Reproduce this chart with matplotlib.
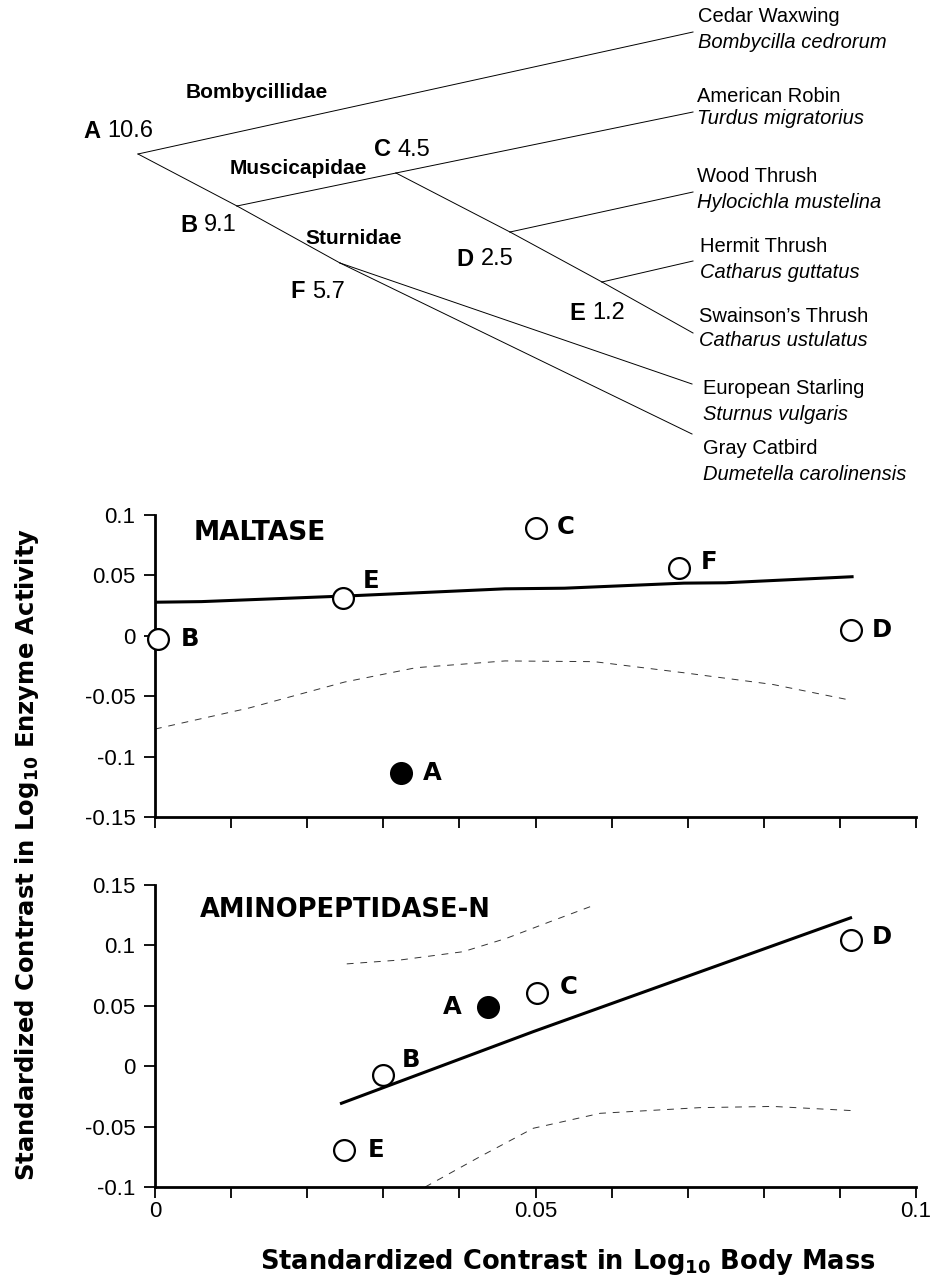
import matplotlib
matplotlib.use("Agg")
import matplotlib.pyplot as plt

plt.rcParams['font.family'] = ['Liberation Sans', 'DejaVu Sans']
plt.rcParams['axes.unicode_minus'] = False
plt.rcParams['mathtext.fontset'] = 'custom'
plt.rcParams['mathtext.rm'] = 'DejaVu Sans:bold'
plt.rcParams['mathtext.bf'] = 'DejaVu Sans:bold'
plt.rcParams['mathtext.default'] = 'bf'

# --- tree data (pixel layout of the cladogram) ---
node_names = ['A', 'B', 'C', 'D', 'E', 'F']
node_x = [138, 237, 396, 510, 602, 340]
node_y = [154, 206, 173, 232, 282, 263]
node_values = ['10.6', '9.1', '4.5', '2.5', '1.2', '5.7']
node_label_x = [100, 197, 391, 474, 585, 305]
node_label_y = [131, 225, 150, 259, 313, 292]

tip_names = ['Cedar', 'Robin', 'Wood', 'Hermit', 'Swainson', 'Starling', 'Catbird']
tip_x = [693, 693, 693, 693, 693, 692, 692]
tip_y = [32, 112, 192, 261, 333, 384, 434]
common_names = ['Cedar Waxwing', 'American Robin', 'Wood Thrush', 'Hermit Thrush',
                "Swainson\u2019s Thrush", 'European Starling', 'Gray Catbird']
latin_names = ['Bombycilla cedrorum', 'Turdus migratorius', 'Hylocichla mustelina',
               'Catharus guttatus', 'Catharus ustulatus', 'Sturnus vulgaris',
               'Dumetella carolinensis']
name_x = [698, 697, 697, 700, 699, 703, 703]
common_y = [17, 96, 177, 246, 317, 389, 448]
latin_y = [42, 119, 202, 272, 341, 414, 475]

edges = [('A', 'Cedar'), ('A', 'B'), ('B', 'C'), ('C', 'Robin'), ('B', 'F'),
         ('F', 'Catbird'), ('F', 'Starling'), ('C', 'D'), ('D', 'Wood'),
         ('D', 'E'), ('E', 'Hermit'), ('E', 'Swainson')]

families = ['Bombycillidae', 'Muscicapidae', 'Sturnidae']
family_x = [186, 230, 305]
family_y = [93, 169, 238]

# --- contrast data ---
malt_labels = ['A', 'B', 'C', 'D', 'E', 'F']
malt_x = [0.0323, 0.0004, 0.0501, 0.0914, 0.0247, 0.0689]
malt_y = [-0.1139, -0.0030, 0.0894, 0.0050, 0.0317, 0.0561]
malt_fit_x = [0.0, 0.0061, 0.0264, 0.046, 0.0538, 0.0695, 0.075, 0.0916]
malt_fit_y = [0.0278, 0.0283, 0.0333, 0.0389, 0.0394, 0.0436, 0.0439, 0.0489]
malt_ci_x = [0.0, 0.0124, 0.0249, 0.0343, 0.046, 0.0577, 0.0695, 0.0812, 0.091]
malt_ci_y = [-0.0772, -0.0597, -0.0383, -0.0264, -0.0208, -0.0214, -0.0306, -0.0403, -0.0528]

amino_labels = ['A', 'B', 'C', 'D', 'E']
amino_x = [0.0437, 0.0300, 0.0502, 0.0914, 0.0248]
amino_y = [0.0488, -0.0073, 0.0608, 0.1042, -0.0694]
amino_fit_x = [0.0245, 0.0497, 0.0914]
amino_fit_y = [-0.0307, 0.0286, 0.1228]
amino_ci_up_x = [0.0252, 0.0322, 0.0405, 0.0462, 0.0519, 0.0578]
amino_ci_up_y = [0.0847, 0.0879, 0.0948, 0.1059, 0.1196, 0.1335]
amino_ci_lo_x = [0.0355, 0.0427, 0.0497, 0.0585, 0.0716, 0.0812, 0.0914]
amino_ci_lo_y = [-0.1, -0.0749, -0.0514, -0.039, -0.0343, -0.0333, -0.0367]

# label offsets (pixels) next to each point
malt_offsets = {'A': (22, 0), 'B': (23, 0), 'C': (20, 1), 'D': (21, 0), 'E': (20, 17), 'F': (21, 6)}
amino_offsets = {'A': (-26, 0), 'B': (18, 15), 'C': (23, 6), 'D': (21, 3), 'E': (24, 0)}

W, H = 932, 1283
fig = plt.figure(figsize=(W / 100, H / 100), dpi=100)

# tree drawn in pixel coordinates
tree = fig.add_axes([0, 0, 1, 1])
tree.set_xlim(0, W)
tree.set_ylim(H, 0)
tree.axis('off')

pos = {}
for n, x, y in zip(node_names, node_x, node_y):
    pos[n] = (x, y)
for n, x, y in zip(tip_names, tip_x, tip_y):
    pos[n] = (x, y)
for a, b in edges:
    tree.plot([pos[a][0], pos[b][0]], [pos[a][1], pos[b][1]], color='k', lw=0.7)

for n, v, lx, ly in zip(node_names, node_values, node_label_x, node_label_y):
    tree.text(lx, ly, n, ha='right', va='center', fontsize=17, fontweight='bold')
    tree.text(lx + 7, ly, v, ha='left', va='center', fontsize=17)

for f, fx, fy in zip(families, family_x, family_y):
    tree.text(fx, fy, f, ha='left', va='center', fontsize=15, fontweight='bold')

for c, l, x, cy, ly in zip(common_names, latin_names, name_x, common_y, latin_y):
    tree.text(x, cy, c, ha='left', va='center', fontsize=14.5)
    tree.text(x, ly, l, ha='left', va='center', fontsize=14.5, style='italic')


def add_panel(top_px, bottom_px):
    left_px, right_px = 155, 916
    return fig.add_axes([left_px / W, 1 - bottom_px / H,
                         (right_px - left_px) / W, (bottom_px - top_px) / H])


def style_axes(ax, ylim, yticks, show_xlabels):
    ax.set_xlim(0, 0.1)
    ax.set_ylim(*ylim)
    ax.patch.set_visible(False)
    for s in ['top', 'right']:
        ax.spines[s].set_visible(False)
    for s in ['left', 'bottom']:
        ax.spines[s].set_linewidth(2)
    xt = [i / 100 for i in range(11)]
    ax.set_xticks(xt)
    if show_xlabels:
        labs = ['' for _ in xt]
        labs[0], labs[5], labs[10] = '0', '0.05', '0.1'
        ax.set_xticklabels(labs)
    else:
        ax.set_xticklabels([])
    ax.set_yticks(yticks)
    ax.set_yticklabels([('%g' % t) if abs(t) > 1e-9 else '0' for t in yticks])
    ax.tick_params(axis='both', direction='out', length=8, width=1.3, labelsize=16)
    ax.tick_params(axis='y', pad=6)
    ax.tick_params(axis='x', pad=2)


def draw_points(ax, xs, ys, labels, offsets):
    for x, y, lab in zip(xs, ys, labels):
        face = 'k' if lab == 'A' else 'white'
        ax.plot(x, y, 'o', ms=15, mfc=face, mec='k', mew=1.6, clip_on=False, zorder=5)
        dx, dy = offsets[lab]
        ax.annotate(lab, (x, y), xytext=(dx * 0.72, dy * 0.72), textcoords='offset points',
                    ha='left' if dx > 0 else 'right', va='center',
                    fontsize=17.5, fontweight='bold', family='DejaVu Sans', zorder=6)


# Maltase panel
ax1 = add_panel(515, 817)
style_axes(ax1, (-0.15, 0.1), [-0.15, -0.1, -0.05, 0, 0.05, 0.1], False)
ax1.plot(malt_fit_x, malt_fit_y, color='k', lw=2.2)
ax1.plot(malt_ci_x, malt_ci_y, color='#333333', lw=0.7, dashes=(7, 7))
draw_points(ax1, malt_x, malt_y, malt_labels, malt_offsets)
ax1.text(0.051, 0.94, 'MALTASE', transform=ax1.transAxes, ha='left', va='center',
         fontsize=19, fontweight='bold', family='DejaVu Sans')

# Aminopeptidase-N panel
ax2 = add_panel(885, 1187)
style_axes(ax2, (-0.1, 0.15), [-0.1, -0.05, 0, 0.05, 0.1, 0.15], True)
ax2.plot(amino_fit_x, amino_fit_y, color='k', lw=2.2)
ax2.plot(amino_ci_up_x, amino_ci_up_y, color='#333333', lw=0.7, dashes=(7, 7))
ax2.plot(amino_ci_lo_x, amino_ci_lo_y, color='#333333', lw=0.7, dashes=(7, 7))
draw_points(ax2, amino_x, amino_y, amino_labels, amino_offsets)
ax2.text(0.059, 0.917, 'AMINOPEPTIDASE-N', transform=ax2.transAxes, ha='left', va='center',
         fontsize=18.5, fontweight='bold', family='DejaVu Sans')

fig.text(27 / W, 1 - 855 / H, 'Standardized Contrast in Log$_{10}$ Enzyme Activity',
         rotation=90, ha='center', va='center', fontsize=17.5, fontweight='bold',
         family='DejaVu Sans')
fig.text(568 / W, 1 - 1262 / H, 'Standardized Contrast in Log$_{10}$ Body Mass',
         ha='center', va='center', fontsize=18.5, fontweight='bold', family='DejaVu Sans')

fig.savefig('out.png', dpi=100)
